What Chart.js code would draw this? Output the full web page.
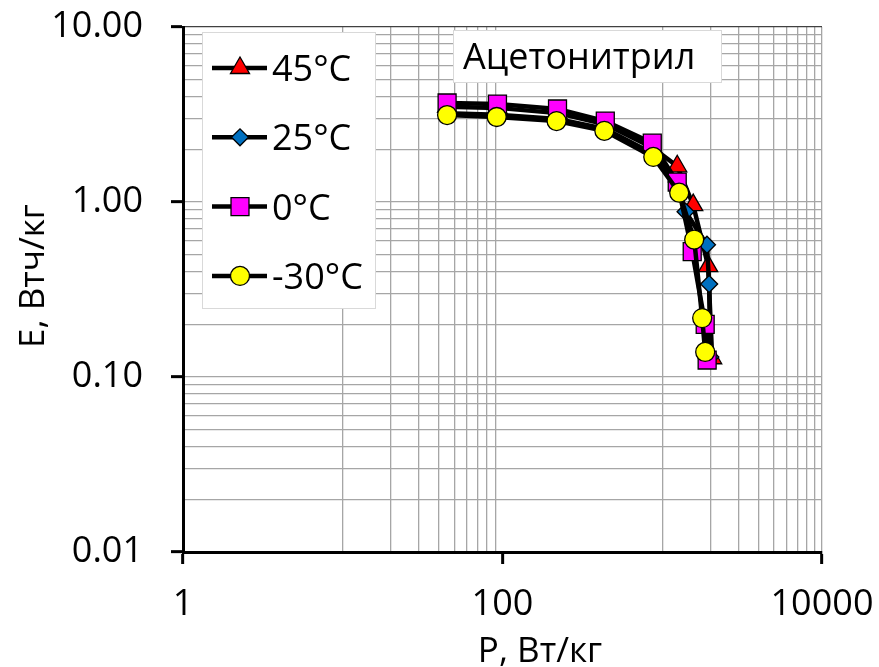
<!DOCTYPE html>
<html>
<head>
<meta charset="utf-8">
<title>Ацетонитрил</title>
<script src="https://cdn.jsdelivr.net/npm/chart.js@4.4.1/dist/chart.umd.min.js"></script>
<style>
  html, body { margin: 0; padding: 0; background: #fff; }
  #wrap { width: 879px; height: 667px; position: relative; }
</style>
</head>
<body>
<div id="wrap"><canvas id="chart" width="879" height="667"></canvas></div>
<script>
// Ragone data: power P (Вт/кг) and energy E (Втч/кг) per temperature
const seriesNames = ['45°C', '25°C', '0°C', '-30°C'];

const power45  = [45, 93, 221, 440, 866, 1241, 1563, 1939, 2054];
const energy45 = [3.50, 3.45, 3.22, 2.78, 2.05, 1.60, 0.96, 0.43, 0.128];

const power25  = [45, 93, 221, 440, 866, 1230, 1400, 1905, 1966, 2000];
const energy25 = [3.22, 3.15, 2.98, 2.62, 1.90, 1.30, 0.88, 0.57, 0.34, 0.13];

const power0   = [45, 93, 221, 440, 866, 1241, 1540, 1857, 1910];
const energy0  = [3.68, 3.63, 3.40, 2.90, 2.17, 1.30, 0.52, 0.20, 0.125];

const powerM30  = [45, 92, 218, 434, 879, 1277, 1585, 1778, 1857];
const energyM30 = [3.14, 3.06, 2.90, 2.55, 1.81, 1.13, 0.61, 0.217, 0.139];

// labelled ticks
const xMajorTicks = [1, 100, 10000];
const yMajorTicks = [0.01, 0.1, 1, 10];

const xTitle = 'P, Вт/кг';
const yTitle = 'E, Втч/кг';
const boxTitle = 'Ацетонитрил';

const FONT = '"Open Sans", "Noto Sans", sans-serif';
const GRID = '#a6a6a6';

function toPoints(xs, ys) {
  return xs.map((x, i) => ({ x: x, y: ys[i] }));
}

function isPow10(v) {
  const l = Math.log10(v);
  return Math.abs(l - Math.round(l)) < 1e-9;
}

function sameValue(a, b) {
  return Math.abs(Math.log10(a) - Math.log10(b)) < 1e-9;
}

// x: labels every two decades, minor lines at 10..90 and 1000..9000
function xTickValues() {
  const vals = [];
  for (let i = 0; i < xMajorTicks.length; i++) {
    vals.push(xMajorTicks[i]);
    if (i < xMajorTicks.length - 1) {
      const step = xMajorTicks[i] * 10;
      for (let k = 1; k <= 9; k++) vals.push(step * k);
    }
  }
  return vals;
}

// y: one line per decade plus 2..9
function yTickValues() {
  const vals = [];
  for (let i = 0; i < yMajorTicks.length; i++) {
    vals.push(yMajorTicks[i]);
    if (i < yMajorTicks.length - 1) {
      for (let k = 2; k <= 9; k++) vals.push(+(yMajorTicks[i] * k).toPrecision(6));
    }
  }
  return vals;
}

const styles = [
  { pointStyle: 'triangle', radius: 11, fill: '#ff0000' },
  { pointStyle: 'rectRot', radius: 8.5, fill: '#0070c0' },
  { pointStyle: 'rect', radius: 12.7, fill: '#ff00ff' },
  { pointStyle: 'circle', radius: 9.5, fill: '#ffff00' }
];

const seriesData = [
  toPoints(power45, energy45),
  toPoints(power25, energy25),
  toPoints(power0, energy0),
  toPoints(powerM30, energyM30)
];

const datasets = seriesData.map((pts, i) => ({
  label: seriesNames[i],
  data: pts,
  showLine: true,
  tension: 0,
  borderColor: '#000',
  borderWidth: 4.5,
  pointStyle: styles[i].pointStyle,
  pointRadius: styles[i].radius,
  pointHoverRadius: styles[i].radius,
  pointBackgroundColor: styles[i].fill,
  pointBorderColor: '#000',
  pointBorderWidth: 1.3,
  order: seriesNames.length - i
}));

function drawMarker(ctx, style, x, y) {
  ctx.save();
  ctx.fillStyle = style.fill;
  ctx.strokeStyle = '#000';
  ctx.lineWidth = 1.3;
  Chart.helpers.drawPoint(ctx, { pointStyle: style.pointStyle, radius: style.radius, borderWidth: 1.3, rotation: 0 }, x, y);
  ctx.restore();
}

// legend box, caption box and axis titles
const overlay = {
  id: 'overlay',
  afterDraw(chart) {
    const ctx = chart.ctx;
    const ca = chart.chartArea;
    ctx.save();

    // legend
    const lx = ca.left + 19, ly = ca.top + 5;
    ctx.fillStyle = '#fff';
    ctx.fillRect(lx, ly, 173, 276);
    ctx.strokeStyle = '#d9d9d9';
    ctx.lineWidth = 1;
    ctx.strokeRect(lx + 0.5, ly + 0.5, 173, 276);
    ctx.font = '36px ' + FONT;
    ctx.textAlign = 'left';
    ctx.textBaseline = 'alphabetic';
    seriesNames.forEach((name, i) => {
      const cy = ly + 36 + i * 69.3;
      ctx.strokeStyle = '#000';
      ctx.lineWidth = 4.5;
      ctx.beginPath();
      ctx.moveTo(lx + 10, cy);
      ctx.lineTo(lx + 65, cy);
      ctx.stroke();
      drawMarker(ctx, styles[i], lx + 38, cy);
      ctx.fillStyle = '#000';
      ctx.fillText(name, lx + 70, cy + 13);
    });

    // caption
    const tx = ca.left + 270, ty = ca.top + 3;
    ctx.fillStyle = '#fff';
    ctx.fillRect(tx, ty, 268, 52);
    ctx.strokeStyle = '#d9d9d9';
    ctx.lineWidth = 1;
    ctx.strokeRect(tx + 0.5, ty + 0.5, 268, 52);
    ctx.fillStyle = '#000';
    ctx.fillText(boxTitle, tx + 10, ty + 39);

    // axis titles
    ctx.font = '35px ' + FONT;
    ctx.textAlign = 'center';
    ctx.fillText(xTitle, ca.left + 357, ca.bottom + 110);
    ctx.translate(44, ca.top + 249);
    ctx.rotate(-Math.PI / 2);
    ctx.fillText(yTitle, 0, 0);
    ctx.restore();
  }
};

new Chart(document.getElementById('chart'), {
  type: 'scatter',
  data: { datasets: datasets },
  options: {
    responsive: false,
    animation: false,
    layout: { padding: { top: 27, right: 57, left: 0, bottom: 0 } },
    plugins: {
      legend: { display: false },
      tooltip: { enabled: false }
    },
    scales: {
      x: {
        type: 'logarithmic',
        min: 1,
        max: 10000,
        afterBuildTicks: axis => { axis.ticks = xTickValues().map(v => ({ value: v })); },
        afterFit: axis => {
          axis.height = 115;
          axis.paddingLeft = 0;
          axis.paddingRight = 0;
        },
        border: { color: '#000', width: 3 },
        grid: {
          color: c => {
            const v = c.tick.value;
            if (sameValue(v, 1) || sameValue(v, 100)) return 'rgba(0,0,0,0)';
            return GRID;
          },
          lineWidth: 1.3,
          tickLength: 12,
          tickWidth: 3,
          tickColor: c => xMajorTicks.some(m => sameValue(m, c.tick.value)) ? '#000' : 'rgba(0,0,0,0)'
        },
        ticks: {
          autoSkip: false,
          maxRotation: 0,
          padding: 19,
          color: '#000',
          font: { family: FONT, size: 36 },
          callback: v => xMajorTicks.some(m => sameValue(m, v)) ? String(v) : ''
        }
      },
      y: {
        type: 'logarithmic',
        min: 0.01,
        max: 10,
        afterBuildTicks: axis => { axis.ticks = yTickValues().map(v => ({ value: v })); },
        afterFit: axis => {
          axis.width = 183;
          axis.paddingTop = 0;
          axis.paddingBottom = 0;
        },
        border: { color: '#000', width: 3 },
        grid: {
          color: c => {
            const v = c.tick.value;
            if (sameValue(v, 10)) return '#404040';
            if (sameValue(v, 0.01)) return 'rgba(0,0,0,0)';
            return GRID;
          },
          lineWidth: 1.3,
          tickLength: 12,
          tickWidth: 3,
          tickColor: c => isPow10(c.tick.value) ? '#000' : 'rgba(0,0,0,0)'
        },
        ticks: {
          autoSkip: false,
          padding: 28,
          color: '#000',
          font: { family: FONT, size: 36 },
          callback: v => isPow10(v) ? v.toFixed(2) : ''
        }
      }
    }
  },
  plugins: [overlay]
});
</script>
</body>
</html>
